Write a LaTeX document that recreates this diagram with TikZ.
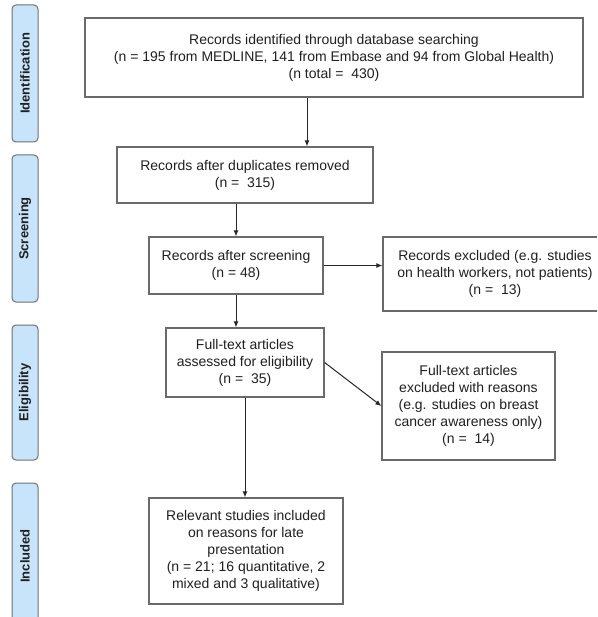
\documentclass[tikz,border=0pt]{standalone}
\usepackage{fontspec}
\setmainfont{Liberation Sans}
\usetikzlibrary{arrows.meta}
\definecolor{barfill}{HTML}{C8E4FA}
\definecolor{barline}{HTML}{707070}
\definecolor{boxline}{HTML}{6A6A6A}
\definecolor{txt}{HTML}{202020}
\tikzset{
  box/.style={draw=boxline, line width=1.2pt, fill=white, align=center,
    text=txt, font=\fontsize{14}{17}\selectfont, inner sep=2pt},
  phase/.style={draw=barline, line width=1pt, fill=barfill, rounded corners=4pt,
    rotate=90, minimum height=26pt, inner sep=0pt, text=txt,
    font=\fontsize{13}{15}\selectfont\bfseries},
  arr/.style={draw=black!85, line width=1pt, -{Latex[length=6pt,width=5pt]}}
}
\begin{document}
\begin{tikzpicture}[x=1pt,y=-1pt]
\useasboundingbox (0,0) rectangle (597,617);
\clip (0,0) rectangle (597,617);
\fill[white] (0,0) rectangle (597,617);
% phase bars
\node[phase, minimum width=137pt] (pid) at (25,73.5) {Identification};
\node[phase, minimum width=147pt] (psc) at (25,228.5) {Screening};
\node[phase, minimum width=135pt] (pel) at (25,392.5) {Eligibility};
\node[phase, minimum width=146pt] (pin) at (25,556) {Included};
% boxes
\node[box, minimum width=498pt, minimum height=79pt] (top) at (334,57.5)
  {Records identified through database searching\\(n = 195 from MEDLINE, 141 from Embase and 94 from Global Health)\\(n total =\ \ 430)};
\node[box, minimum width=256pt, minimum height=56pt] (dup) at (245,175)
  {Records after duplicates removed\\(n =\ \ 315)};
\node[box, minimum width=174pt, minimum height=57pt] (scr) at (236,265.5)
  {Records after screening\\(n = 48)};
\node[box, minimum width=224pt, minimum height=74pt] (ex1) at (495,274)
  {Records excluded (e.g. studies\\on health workers, not patients)\\(n =\ \ 13)};
\node[box, minimum width=158pt, minimum height=69pt] (elig) at (245,362.5)
  {Full-text articles\\assessed for eligibility\\(n =\ \ 35)};
\node[box, minimum width=173pt, minimum height=108pt] (ex2) at (468.5,406)
  {Full-text articles\\excluded with reasons\\(e.g. studies on breast\\cancer awareness only)\\(n =\ \ 14)};
\node[box, minimum width=194pt, minimum height=106pt] (inc) at (246,551)
  {Relevant studies included\\on reasons for late\\presentation\\(n = 21; 16 quantitative, 2\\mixed and 3 qualitative)};
% connectors
\coordinate (c1) at (307,0);
\draw[arr] (top.south -| c1) -- (dup.north -| c1);
\draw[arr] (dup.south -| scr.north) -- (scr.north);
\draw[arr] (scr.east) -- (scr.east -| ex1.west);
\draw[arr] (scr.south) -- (scr.south |- elig.north);
\draw[arr] (elig.east) -- (ex2.west);
\draw[arr] (elig.south) -- (elig.south |- inc.north);
\end{tikzpicture}
\end{document}
